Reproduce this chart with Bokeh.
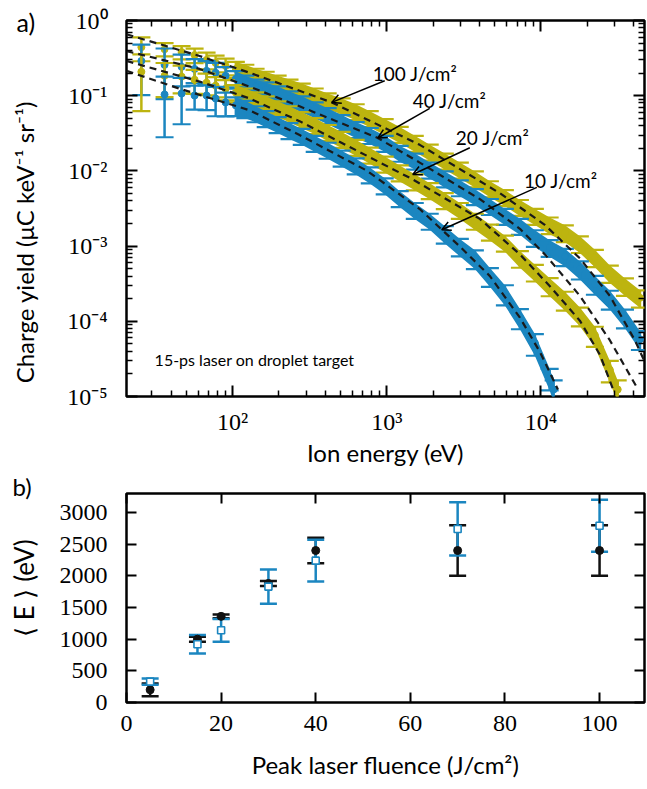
import numpy as np
from bokeh.plotting import figure
from bokeh.layouts import column
from bokeh.models import (Range1d, LogAxis, LinearAxis, FixedTicker, CustomJSTickFormatter,
                          Label, Arrow, OpenHead, Title)
from bokeh.embed import file_html
from bokeh.resources import INLINE

BLUE = "#1b86c0"
YELLOW = "#bdb40f"
BLACK = "#111111"
SERIF = "Liberation Serif"
SANS = "Lato"
NB = "\u00a0"

# ---------------- panel a) data ----------------
energy_eV = [25.6, 36.2, 46.7, 56.7, 67.8, 77.6, 90.1, 105, 121, 141, 164, 196, 234, 281, 341,
             414, 510, 629, 776, 970, 1214, 1520, 1901, 2380, 2980, 3730, 4670, 5840, 7310,
             9140, 11400, 14300, 17900, 22400, 28000, 35100, 43900]

yield_100 = [0.442, 0.416, 0.380, 0.347, 0.299, 0.273, 0.249, 0.227, 0.208, 0.184, 0.168, 0.149,
             0.132, 0.117, 0.1006, 0.0865, 0.0743, 0.0621, 0.0502, 0.0394, 0.0310, 0.0236, 0.0180,
             0.0137, 0.0104, 0.00794, 0.00587, 0.00448, 0.00331, 0.00252, 0.00192, 0.00151,
             0.00108, 0.000708, 0.000437, 0.000295, 0.000205]
relerr_100 = [0.35, 0.20, 0.20, 0.22, 0.25, 0.25, 0.25, 0.24, 0.24, 0.24, 0.24, 0.24, 0.24, 0.24,
              0.24, 0.24, 0.24, 0.24, 0.24, 0.24, 0.24, 0.24, 0.24, 0.24, 0.24, 0.24, 0.24, 0.24,
              0.24, 0.24, 0.25, 0.25, 0.25, 0.26, 0.26, 0.26, 0.26]

yield_40 = [0.290, 0.257, 0.242, 0.227, 0.214, 0.202, 0.184, 0.168, 0.149, 0.132, 0.121, 0.107,
            0.0919, 0.0790, 0.0659, 0.0550, 0.0445, 0.0360, 0.0300, 0.0236, 0.0174, 0.0137,
            0.0104, 0.00794, 0.00605, 0.00461, 0.00341, 0.00252, 0.00186, 0.00130, 0.000959,
            0.000731, 0.000493, 0.000313, 0.000199, 0.000112, 0.0000577]
relerr_40 = [0.65, 0.65, 0.45, 0.35, 0.35, 0.35, 0.30, 0.26, 0.24, 0.24, 0.24, 0.24, 0.24, 0.24,
             0.24, 0.24, 0.24, 0.24, 0.24, 0.24, 0.24, 0.24, 0.24, 0.24, 0.24, 0.24, 0.24, 0.24,
             0.24, 0.25, 0.25, 0.26, 0.27, 0.28, 0.28, 0.28, 0.28]

energy_20 = [25.6, 36.2, 46.7, 56.7, 67.8, 77.6, 90.1, 105, 121, 141, 164, 196, 234, 281, 341,
             414, 510, 629, 776, 970, 1214, 1520, 1901, 2380, 2980, 3730, 4670, 5840, 7310,
             9140, 11400, 14300, 17900, 22400, 28000, 31500]
yield_20 = [0.208, 0.184, 0.179, 0.163, 0.149, 0.136, 0.124, 0.110, 0.1006, 0.0891, 0.0790,
            0.0679, 0.0584, 0.0487, 0.0406, 0.0329, 0.0266, 0.0209, 0.0164, 0.0125, 0.00953,
            0.00726, 0.00553, 0.00409, 0.00302, 0.00217, 0.00156, 0.00111, 0.000687, 0.000451,
            0.000295, 0.000193, 0.000119, 0.0000651, 0.0000226, 0.0000124]
relerr_20 = [0.70, 0.48, 0.40, 0.35, 0.32, 0.30, 0.30, 0.26, 0.24, 0.24, 0.24, 0.24, 0.24, 0.24,
             0.24, 0.24, 0.24, 0.24, 0.24, 0.24, 0.24, 0.24, 0.24, 0.24, 0.24, 0.24, 0.24, 0.24,
             0.25, 0.25, 0.27, 0.28, 0.28, 0.30, 0.32, 0.32]

energy_10 = [36.2, 46.7, 56.7, 67.8, 77.6, 90.1, 105, 121, 141, 164, 196, 234, 281, 341,
             414, 510, 629, 776, 970, 1214, 1520, 1901, 2380, 2980, 3730, 4670, 5840, 7310,
             9140, 11400, 12100]
yield_10 = [0.1037, 0.107, 0.1006, 0.1006, 0.0919, 0.0814, 0.0743, 0.0679, 0.0584, 0.0502,
            0.0419, 0.0349, 0.0292, 0.0236, 0.0191, 0.0150, 0.0118, 0.00897, 0.00643, 0.00434,
            0.00302, 0.00217, 0.00146, 0.000988, 0.000687, 0.000399, 0.000232, 0.000112,
            0.0000512, 0.0000177, 0.0000124]
relerr_10 = [0.73, 0.61, 0.35, 0.36, 0.42, 0.35, 0.28, 0.26, 0.24, 0.24, 0.24, 0.24, 0.24, 0.24,
             0.24, 0.24, 0.24, 0.24, 0.24, 0.24, 0.24, 0.24, 0.26, 0.26, 0.28, 0.28, 0.30, 0.30,
             0.32, 0.32, 0.32]

# dashed fit curves
fit100_E = [20.5, 61.1, 129, 440, 1637, 5420, 10600, 17900, 28000, 40700, 48800]
fit100_Y = [0.655, 0.337, 0.202, 0.0814, 0.0222, 0.00505, 0.00192, 0.000687, 0.000218, 0.0000560, 0.0000248]
fit40_E = [20.5, 61.1, 129, 272, 875, 1637, 4020, 7310, 10900, 17900, 28000, 42700]
fit40_Y = [0.392, 0.227, 0.132, 0.0722, 0.0274, 0.0129, 0.00421, 0.00170, 0.000731, 0.000218, 0.0000560, 0.0000124]
fit20_E = [20.5, 61.1, 129, 272, 1475, 4020, 7310, 11400, 17900, 24200, 29400]
fit20_Y = [0.290, 0.154, 0.0919, 0.0459, 0.00771, 0.00230, 0.000776, 0.000295, 0.000102, 0.0000356, 0.0000124]
fit10_E = [20.5, 45.3, 129, 272, 741, 1637, 2980, 4670, 7310, 9860, 12900]
fit10_Y = [0.214, 0.124, 0.0640, 0.0300, 0.0101, 0.00311, 0.000988, 0.000399, 0.000112, 0.0000390, 0.0000124]

fluence_labels = ["100 J/cm²", "40 J/cm²", "20 J/cm²", "10 J/cm²"]
label_E = [811, 1475, 2806, 7770]
label_Y = [0.1955, 0.0865, 0.0274, 0.00748]
arrow_from_E = [970, 1901, 3460, 9420]
arrow_from_Y = [0.158, 0.0679, 0.0203, 0.00605]
arrow_to_E = [440, 875, 1475, 2275]
arrow_to_Y = [0.0814, 0.0274, 0.00897, 0.00165]

x_major_a = [100, 1000, 10000]
y_major_a = [1e-5, 1e-4, 1e-3, 1e-2, 1e-1, 1]

# ---------------- panel b) data ----------------
fluence = [5, 15, 20, 30, 40, 70, 100]
mean_E_black = [200, 1000, 1360, 1880, 2400, 2400, 2400]
err_black = [100, 40, 30, 40, 200, 400, 400]
mean_E_blue = [330, 920, 1140, 1830, 2240, 2740, 2790]
err_blue = [50, 145, 180, 270, 330, 420, 410]
x_ticks_b = [0, 20, 40, 60, 80, 100]
y_ticks_b = [0, 500, 1000, 1500, 2000, 2500, 3000]

# ---------------------------------------------------------------
SUP_JS = """
const e = Math.round(Math.log10(tick));
const m = {"-": "\u207b", "0": "\u2070", "1": "\u00b9", "2": "\u00b2", "3": "\u00b3",
           "4": "\u2074", "5": "\u2075", "6": "\u2076", "7": "\u2077", "8": "\u2078", "9": "\u2079"};
let s = "";
for (const c of String(e)) { s += m[c]; }
return "10" + s;
"""


def minor_log(lo_exp, hi_exp):
    return [m * 10.0 ** k for k in range(lo_exp, hi_exp) for m in range(2, 10)]


def style_axis(ax, major_in, minor_in, labels=True):
    ax.axis_line_color = None
    ax.major_tick_in = major_in
    ax.major_tick_out = 0
    ax.minor_tick_in = minor_in
    ax.minor_tick_out = 0
    ax.major_tick_line_width = 2
    ax.minor_tick_line_width = 1.5
    ax.major_tick_line_color = "black"
    ax.minor_tick_line_color = "black"
    if labels:
        ax.major_label_text_font = SERIF
        ax.major_label_text_font_size = "24px"
        ax.major_label_text_color = "black"
        ax.axis_label_text_font = SANS
        ax.axis_label_text_font_size = "24px"
        ax.axis_label_text_font_style = "normal"
        ax.axis_label_text_color = "black"
    else:
        ax.major_label_text_font_size = "0px"
        ax.major_label_standoff = 0
        ax.formatter = CustomJSTickFormatter(code="return '';")


def panel_title(text, offset, standoff, size):
    return Title(text=text, align="left", offset=offset, standoff=standoff,
                 vertical_align="bottom",
                 text_font=SANS, text_font_size=size, text_font_style="normal",
                 text_color="black")


# ---------------- figure a ----------------
p1 = figure(width=646, height=469, x_axis_type="log", y_axis_type="log",
            x_range=Range1d(20.5, 47000), y_range=Range1d(1e-5, 1),
            output_backend="svg", toolbar_location=None,
            min_border_left=126, min_border_right=2, min_border_top=20, min_border_bottom=68)
p1.grid.visible = False
p1.outline_line_color = "black"
p1.outline_line_width = 2.5
p1.outline_line_alpha = 1.0
p1.title = panel_title("a)", -110, -32, "25px")

xa = p1.xaxis[0]
xa.ticker = FixedTicker(ticks=x_major_a, minor_ticks=minor_log(1, 5))
xa.formatter = CustomJSTickFormatter(code=SUP_JS)
xa.axis_label = "Ion energy (eV)"
style_axis(xa, 11, 6)
xa.major_label_standoff = 12
xa.axis_label_standoff = 0

ya = p1.yaxis[0]
ya.ticker = FixedTicker(ticks=y_major_a, minor_ticks=minor_log(-5, 0))
ya.formatter = CustomJSTickFormatter(code=SUP_JS)
ya.axis_label = "Charge yield (μC keV⁻¹ sr⁻¹)" + NB * 11
style_axis(ya, 11, 6)
ya.major_label_standoff = 19
ya.axis_label_standoff = 25

top_ax = LogAxis(ticker=FixedTicker(ticks=x_major_a, minor_ticks=minor_log(1, 5)))
style_axis(top_ax, 11, 6, labels=False)
p1.add_layout(top_ax, "above")
right_ax = LogAxis(ticker=FixedTicker(ticks=y_major_a, minor_ticks=minor_log(-5, 0)))
style_axis(right_ax, 11, 6, labels=False)
p1.add_layout(right_ax, "right")

series = [
    (energy_eV, yield_100, relerr_100, YELLOW),
    (energy_eV, yield_40, relerr_40, BLUE),
    (energy_20, yield_20, relerr_20, YELLOW),
    (energy_10, yield_10, relerr_10, BLUE),
]
for E, Y, R, col in series:
    E = np.array(E, dtype=float)
    Y = np.array(Y, dtype=float)
    R = np.array(R, dtype=float)
    lo = Y * (1 - R)
    hi = Y * (1 + R)
    dense = E >= 100
    p1.varea(x=E[dense], y1=lo[dense], y2=hi[dense], fill_color=col, fill_alpha=1.0)
    p1.segment(x0=E, y0=lo, x1=E, y1=hi, line_color=col, line_width=2.5)
    p1.scatter(E, lo, marker="dash", size=18, line_color=col, line_width=2.2)
    p1.scatter(E, hi, marker="dash", size=18, line_color=col, line_width=2.2)
    p1.scatter(E, Y, marker="circle", size=7, fill_color=col, line_color=col)

for fe, fy in [(fit100_E, fit100_Y), (fit40_E, fit40_Y), (fit20_E, fit20_Y), (fit10_E, fit10_Y)]:
    p1.line(fe, fy, line_color="#1a1a1a", line_width=2.2, line_dash="7 5")

for t, lx, ly, x0, y0, x1, y1 in zip(fluence_labels, label_E, label_Y,
                                     arrow_from_E, arrow_from_Y, arrow_to_E, arrow_to_Y):
    p1.add_layout(Arrow(end=OpenHead(size=9, line_width=1.5, line_color="black"),
                        x_start=x0, y_start=y0, x_end=x1, y_end=y1,
                        line_width=1.5, line_color="black"))
    p1.add_layout(Label(x=lx, y=ly, text=t, text_font=SANS, text_font_size="19px",
                        text_baseline="alphabetic", text_color="black"))

p1.add_layout(Label(x=31.2, y=3.06e-5, text="15-ps laser on droplet target", text_font=SANS,
                    text_font_size="16px", text_baseline="alphabetic", text_color="black"))

# ---------------- figure b ----------------
p2 = figure(width=646, height=314, x_range=Range1d(0, 109.5), y_range=Range1d(0, 3300),
            output_backend="svg", toolbar_location=None,
            min_border_left=126, min_border_right=2, min_border_top=24, min_border_bottom=81)
p2.grid.visible = False
p2.outline_line_color = "black"
p2.outline_line_width = 2.5
p2.outline_line_alpha = 1.0
p2.title = panel_title("b)", -114, -14, "24px")

xb = p2.xaxis[0]
xb.ticker = FixedTicker(ticks=x_ticks_b, minor_ticks=[])
xb.axis_label = "Peak laser fluence (J/cm²)"
style_axis(xb, 10, 0)
xb.major_label_standoff = 13
xb.axis_label_standoff = 16

yb = p2.yaxis[0]
yb.ticker = FixedTicker(ticks=y_ticks_b, minor_ticks=[])
yb.axis_label = NB * 3 + "⟨" + NB + "E" + NB + "⟩" + NB + "(eV)"
style_axis(yb, 10, 0)
yb.axis_label_text_font_size = "26px"
yb.major_label_standoff = 19
yb.axis_label_standoff = 17

top_b = LinearAxis(ticker=FixedTicker(ticks=x_ticks_b, minor_ticks=[]))
style_axis(top_b, 10, 0, labels=False)
p2.add_layout(top_b, "above")
right_b = LinearAxis(ticker=FixedTicker(ticks=y_ticks_b, minor_ticks=[]))
style_axis(right_b, 10, 0, labels=False)
p2.add_layout(right_b, "right")

fx = np.array(fluence, dtype=float)
kb = np.array(mean_E_black, dtype=float)
ke = np.array(err_black, dtype=float)
bb = np.array(mean_E_blue, dtype=float)
be = np.array(err_blue, dtype=float)

p2.segment(x0=fx, y0=kb - ke, x1=fx, y1=kb + ke, line_color=BLACK, line_width=2.5)
p2.scatter(fx, kb - ke, marker="dash", size=17, line_color=BLACK, line_width=2.5)
p2.scatter(fx, kb + ke, marker="dash", size=17, line_color=BLACK, line_width=2.5)
p2.segment(x0=fx, y0=bb - be, x1=fx, y1=bb + be, line_color=BLUE, line_width=2.5)
p2.scatter(fx, bb - be, marker="dash", size=17, line_color=BLUE, line_width=2.5)
p2.scatter(fx, bb + be, marker="dash", size=17, line_color=BLUE, line_width=2.5)
p2.scatter(fx, kb, marker="circle", size=8, fill_color=BLACK, line_color=BLACK)
p2.scatter(fx, bb, marker="square", size=7, fill_color="white", line_color=BLUE, line_width=1.6)

layout = column(p1, p2)
open("out.html", "w").write(file_html(layout, INLINE))
